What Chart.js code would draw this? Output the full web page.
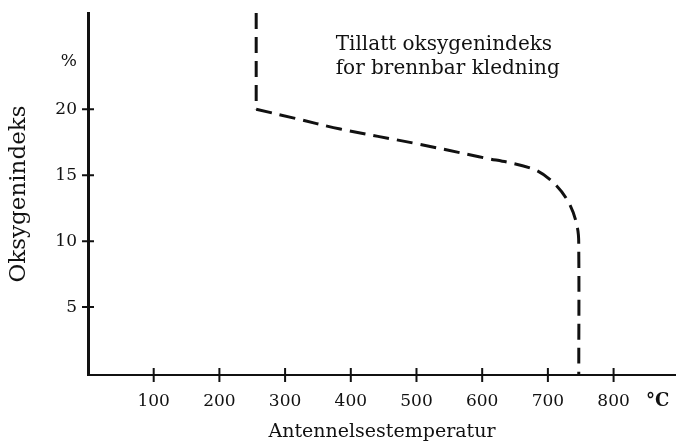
<!DOCTYPE html>
<html>
<head>
<meta charset="utf-8">
<script src="https://cdn.jsdelivr.net/npm/chart.js@4.4.1/dist/chart.umd.min.js"></script>
<style>
  html, body { margin: 0; padding: 0; background: #fff; }
  canvas { display: block; }
</style>
</head>
<body>
<canvas id="chart" width="676" height="445"></canvas>
<script>
// Tillatt oksygenindeks mot antennelsestemperatur
const tempTicks = [100, 200, 300, 400, 500, 600, 700, 800];
const indexTicks = [5, 10, 15, 20];
const tempUnit = { value: 867, label: '°C' };
const indexUnit = { value: 23.6, label: '%' };

// vertikal del øverst
const topTemp = [256, 256];
const topIndex = [27.3, 20];
// kurven videre ned til aksen
const curveTemp = [256, 312, 384, 499, 595, 676, 707, 732, 745, 747, 747];
const curveIndex = [20, 19.35, 18.5, 17.4, 16.4, 15.5, 14.5, 12.9, 11.0, 9.3, -0.1];

const noteLines = ['Tillatt oksygenindeks', 'for brennbar kledning'];
const xTitle = 'Antennelsestemperatur';
const yTitle = 'Oksygenindeks';

const FONT = "'DejaVu Serif', 'Liberation Serif', serif";
const INK = '#111';

const toPoints = (xs, ys) => xs.map((x, i) => ({ x: x, y: ys[i] }));

// tick marks that cross the axis lines, and the note in the plot
const extras = {
    id: 'extras',
    afterDraw(chart) {
        const { ctx, chartArea, scales } = chart;
        const x = scales.x, y = scales.y;
        ctx.save();
        ctx.strokeStyle = INK;
        ctx.lineWidth = 2;
        ctx.beginPath();
        tempTicks.forEach(v => {
            const px = x.getPixelForValue(v);
            ctx.moveTo(px, chartArea.bottom - 7);
            ctx.lineTo(px, chartArea.bottom + 7);
        });
        indexTicks.forEach(v => {
            const py = y.getPixelForValue(v);
            ctx.moveTo(chartArea.left - 6, py);
            ctx.lineTo(chartArea.left + 6, py);
        });
        ctx.stroke();

        ctx.fillStyle = INK;
        ctx.font = '20px ' + FONT;
        ctx.textBaseline = 'alphabetic';
        const nx = x.getPixelForValue(377);
        const ny = y.getPixelForValue(24.5);
        noteLines.forEach((t, i) => ctx.fillText(t, nx, ny + i * 24));
        ctx.restore();
    }
};

const lineStyle = {
    borderColor: INK,
    borderWidth: 3,
    borderDash: [16, 8],
    pointRadius: 0,
    fill: false
};

new Chart(document.getElementById('chart').getContext('2d'), {
    type: 'line',
    data: {
        datasets: [
            Object.assign({ data: toPoints(topTemp, topIndex), tension: 0 }, lineStyle),
            Object.assign({ data: toPoints(curveTemp, curveIndex), tension: 0.35 }, lineStyle)
        ]
    },
    options: {
        responsive: false,
        animation: false,
        layout: { padding: { top: 13, right: 0, bottom: 0, left: 0 } },
        plugins: {
            legend: { display: false },
            title: { display: false },
            tooltip: { enabled: false }
        },
        scales: {
            x: {
                type: 'linear',
                min: 0,
                max: 895,
                afterBuildTicks: s => { s.ticks = tempTicks.concat(tempUnit.value).map(v => ({ value: v })); },
                afterFit: s => { s.height = 70; s.paddingLeft = 0; s.paddingRight = 0; },
                grid: { display: false, drawTicks: false },
                border: { display: true, color: INK, width: 2 },
                ticks: {
                    autoSkip: false,
                    maxRotation: 0,
                    padding: 16,
                    color: INK,
                    font: c => (c.tick && c.tick.value === tempUnit.value)
                        ? { family: FONT, size: 18, weight: 'bold' }
                        : { family: FONT, size: 17 },
                    callback: v => v === tempUnit.value ? tempUnit.label : String(v)
                },
                title: {
                    display: true,
                    text: xTitle,
                    color: INK,
                    font: { family: FONT, size: 19 },
                    padding: { top: 0, bottom: 2 }
                }
            },
            y: {
                type: 'linear',
                min: -0.15,
                max: 27.3,
                afterBuildTicks: s => { s.ticks = indexTicks.concat(indexUnit.value).map(v => ({ value: v })); },
                afterFit: s => { s.width = 88; s.paddingTop = 0; s.paddingBottom = 0; },
                grid: { display: false, drawTicks: false },
                border: { display: true, color: INK, width: 3 },
                ticks: {
                    autoSkip: false,
                    padding: 11,
                    color: INK,
                    font: { family: FONT, size: 17 },
                    callback: v => v === indexUnit.value ? indexUnit.label : String(v)
                },
                title: {
                    display: true,
                    text: yTitle,
                    color: INK,
                    font: { family: FONT, size: 23 },
                    padding: { top: 5, bottom: 0 }
                }
            }
        }
    },
    plugins: [extras]
});
</script>
</body>
</html>
